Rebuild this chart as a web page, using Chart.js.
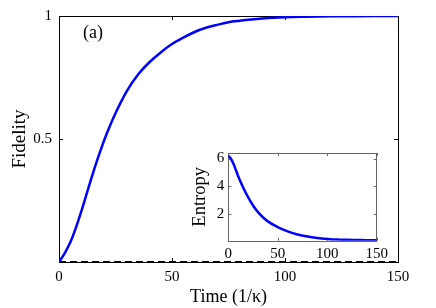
<!DOCTYPE html>
<html>
<head>
<meta charset="utf-8">
<script src="https://cdn.jsdelivr.net/npm/chart.js@4.4.0/dist/chart.umd.min.js"></script>
<style>
  html, body { margin: 0; padding: 0; background: #fff; }
  #wrap { position: relative; width: 436px; height: 308px; }
  #main { position: absolute; left: 0; top: 0; }
  #inset { position: absolute; left: 186px; top: 140px; }
</style>
</head>
<body>
<div id="wrap">
  <canvas id="main" width="436" height="308" style="width:436px;height:308px"></canvas>
  <canvas id="inset" width="206" height="124" style="width:206px;height:124px"></canvas>
</div>
<script>
// --- data ---
const timeMain = [0, 2.5, 5, 7.5, 10, 12.5, 15, 17.5, 20, 22.5, 25, 27.5, 30, 35, 40, 45, 50, 55, 60, 65, 70, 75, 80, 85, 90, 95, 100, 110, 120, 130, 140, 150];
const fidelity = [0, 0.035, 0.08, 0.14, 0.21, 0.285, 0.36, 0.43, 0.495, 0.553, 0.605, 0.652, 0.695, 0.762, 0.812, 0.852, 0.886, 0.912, 0.935, 0.952, 0.964, 0.975, 0.981, 0.986, 0.99, 0.993, 0.995, 0.997, 0.9985, 0.9992, 0.9996, 0.9998];
const timeFloor = [0, 150];
const floorValues = [0, 0];

const timeInset = [0, 2.5, 5, 7.5, 10, 15, 20, 25, 30, 35, 40, 50, 60, 70, 80, 90, 100, 110, 120, 130, 140, 150];
const entropy = [6.2, 6.0, 5.65, 5.2, 4.72, 3.9, 3.2, 2.6, 2.12, 1.75, 1.45, 1.03, 0.73, 0.5, 0.35, 0.25, 0.18, 0.13, 0.11, 0.1, 0.09, 0.09];

const mainXTicks = [0, 50, 100, 150];
const mainYTicks = [0.5, 1];
const insetXTicks = [0, 50, 100, 150];
const insetYTicks = [2, 4, 6];

const SERIF = "'Liberation Serif', 'Times New Roman', serif";
const BLUE = '#0000ff';

const pts = (xs, ys) => xs.map((x, i) => ({ x, y: ys[i] }));
const fixTicks = list => scale => { scale.ticks = list.map(v => ({ value: v })); };

// frame + inward ticks on all four sides (matlab style)
function framePlugin(color, len) {
  return {
    id: 'frame',
    beforeDatasetsDraw(chart) {
      const { ctx, chartArea: a, scales } = chart;
      ctx.save();
      ctx.strokeStyle = color;
      ctx.lineWidth = 1;
      ctx.strokeRect(Math.round(a.left) + 0.5, Math.round(a.top) + 0.5,
                     Math.round(a.right - a.left), Math.round(a.bottom - a.top));
      ctx.beginPath();
      scales.x.ticks.forEach(t => {
        const px = Math.round(scales.x.getPixelForValue(t.value)) + 0.5;
        ctx.moveTo(px, a.bottom); ctx.lineTo(px, a.bottom - len);
        ctx.moveTo(px, a.top); ctx.lineTo(px, a.top + len);
      });
      scales.y.ticks.forEach(t => {
        const py = Math.round(scales.y.getPixelForValue(t.value)) + 0.5;
        ctx.moveTo(a.left, py); ctx.lineTo(a.left + len, py);
        ctx.moveTo(a.right, py); ctx.lineTo(a.right - len, py);
      });
      ctx.stroke();
      ctx.restore();
    }
  };
}

const panelLabel = {
  id: 'panelLabel',
  afterDraw(chart) {
    const { ctx } = chart;
    ctx.save();
    ctx.font = '18px ' + SERIF;
    ctx.fillStyle = '#000';
    ctx.textAlign = 'center';
    ctx.textBaseline = 'middle';
    ctx.fillText('(a)', 93, 33);
    ctx.restore();
  }
};

new Chart(document.getElementById('main'), {
  type: 'line',
  data: {
    datasets: [
      {
        data: pts(timeMain, fidelity),
        borderColor: BLUE, borderWidth: 2.5,
        pointRadius: 0, cubicInterpolationMode: 'monotone', fill: false
      },
      {
        data: pts(timeFloor, floorValues),
        borderColor: '#000', borderWidth: 2, borderDash: [7, 4],
        pointRadius: 0, fill: false
      }
    ]
  },
  options: {
    responsive: false,
    animation: false,
    events: [],
    layout: { padding: { left: 0, top: 10, right: 38, bottom: 0 } },
    plugins: { legend: { display: false }, tooltip: { enabled: false } },
    scales: {
      x: {
        type: 'linear', min: 0, max: 150,
        afterBuildTicks: fixTicks(mainXTicks),
        afterFit: s => { s.height = 46; },
        grid: { display: false, drawTicks: false },
        border: { display: false },
        ticks: { color: '#000', padding: 6, font: { family: SERIF, size: 15 } },
        title: { display: true, text: 'Time (1/κ)', color: '#000', padding: 0, font: { family: SERIF, size: 18 } }
      },
      y: {
        type: 'linear', min: 0, max: 1,
        afterBuildTicks: fixTicks(mainYTicks),
        afterFit: s => { s.width = 59; },
        grid: { display: false, drawTicks: false },
        border: { display: false },
        ticks: { color: '#000', padding: 7, font: { family: SERIF, size: 15 }, callback: v => String(v) },
        title: { display: true, text: 'Fidelity', color: '#000', padding: { top: 9, bottom: 0 }, font: { family: SERIF, size: 19 } }
      }
    }
  },
  plugins: [framePlugin('#000', 4), panelLabel]
});

new Chart(document.getElementById('inset'), {
  type: 'line',
  data: {
    datasets: [{
      data: pts(timeInset, entropy),
      borderColor: BLUE, borderWidth: 2.5,
      pointRadius: 0, cubicInterpolationMode: 'monotone', fill: false
    }]
  },
  options: {
    responsive: false,
    animation: false,
    events: [],
    layout: { padding: { left: 0, top: 10.7, right: 15.3, bottom: 0 } },
    plugins: { legend: { display: false }, tooltip: { enabled: false } },
    scales: {
      x: {
        type: 'linear', min: 0, max: 150,
        afterBuildTicks: fixTicks(insetXTicks),
        afterFit: s => { s.height = 23.3; },
        grid: { display: false, drawTicks: false },
        border: { display: false },
        ticks: { color: '#000', padding: 4, font: { family: SERIF, size: 15 } },
      },
      y: {
        type: 'linear', min: 0.05, max: 6.4,
        afterBuildTicks: fixTicks(insetYTicks),
        afterFit: s => { s.width = 42.3; },
        grid: { display: false, drawTicks: false },
        border: { display: false },
        ticks: { color: '#000', padding: 4, font: { family: SERIF, size: 15 } },
        title: { display: true, text: 'Entropy', color: '#000', padding: { top: 3, bottom: 0 }, font: { family: SERIF, size: 18.5 } }
      }
    }
  },
  plugins: [framePlugin('#666', 3)]
});
</script>
</body>
</html>
